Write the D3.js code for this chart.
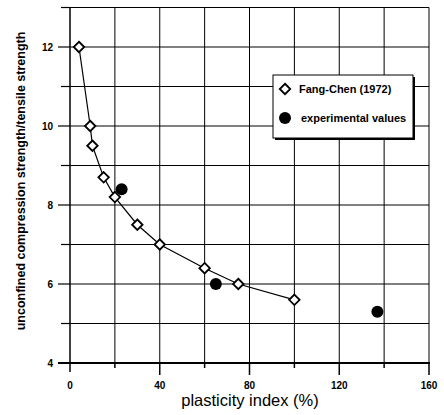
<!DOCTYPE html>
<html>
<head>
<meta charset="utf-8">
<script src="https://cdn.jsdelivr.net/npm/d3@7"></script>
<style>
  body { margin: 0; background: #fff; }
  svg { font-family: "Liberation Sans", Arial, sans-serif; }
</style>
</head>
<body>
<div id="chart"></div>
<script>
// data
var fangPI = [4, 9, 10, 15, 20, 30, 40, 60, 75, 100];
var fangRatio = [12, 10, 9.5, 8.7, 8.2, 7.5, 7, 6.4, 6, 5.6];
var expPI = [23, 65, 137];
var expRatio = [8.4, 6, 5.3];
var xTicks = [0, 40, 80, 120, 160];
var yTicks = [4, 6, 8, 10, 12];
var legendLabels = ["Fang-Chen (1972)", "experimental values"];

var width = 444, height = 415;
var margin = {top: 7.5, right: 15, bottom: 52, left: 70};

var svg = d3.select("#chart").append("svg")
    .attr("width", width)
    .attr("height", height);

var x = d3.scaleLinear().domain([0, 160]).range([margin.left, width - margin.right]);
var y = d3.scaleLinear().domain([4, 13]).range([height - margin.bottom, margin.top]);

// grid lines
var grid = svg.append("g").attr("stroke", "#000").attr("stroke-width", 1);
grid.selectAll(".vg").data(d3.range(20, 161, 20)).enter().append("line")
    .attr("x1", function (d) { return x(d); })
    .attr("x2", function (d) { return x(d); })
    .attr("y1", y(13)).attr("y2", y(4));
grid.selectAll(".hg").data(d3.range(5, 14, 1)).enter().append("line")
    .attr("x1", x(0)).attr("x2", x(160))
    .attr("y1", function (d) { return y(d); })
    .attr("y2", function (d) { return y(d); });

// left axis line and bottom axis
svg.append("line")
    .attr("x1", x(0)).attr("x2", x(0))
    .attr("y1", y(13)).attr("y2", y(4) + 9)
    .attr("stroke", "#000").attr("stroke-width", 1.5);
svg.append("line")
    .attr("x1", x(0) - 12).attr("x2", x(160) + 1)
    .attr("y1", y(4)).attr("y2", y(4))
    .attr("stroke", "#000").attr("stroke-width", 2);

// ticks
var xAxis = svg.append("g").attr("stroke", "#000").attr("stroke-width", 1.5);
xAxis.selectAll("line").data(d3.range(20, 161, 20)).enter().append("line")
    .attr("x1", function (d) { return x(d); })
    .attr("x2", function (d) { return x(d); })
    .attr("y1", y(4))
    .attr("y2", function (d) { return y(4) + (d % 40 === 0 ? 12 : 5); });
var yAxis = svg.append("g").attr("stroke", "#000").attr("stroke-width", 1.2);
yAxis.selectAll("line").data(d3.range(5, 14, 1)).enter().append("line")
    .attr("x1", function (d) { return x(0) - (d % 2 === 0 ? 12 : 9); })
    .attr("x2", x(0))
    .attr("y1", function (d) { return y(d); })
    .attr("y2", function (d) { return y(d); });

// tick labels
svg.append("g").selectAll("text").data(xTicks).enter().append("text")
    .attr("x", function (d) { return x(d); })
    .attr("y", y(4) + 26)
    .attr("text-anchor", "middle")
    .attr("font-size", 10).attr("font-weight", "bold")
    .text(function (d) { return d; });
svg.append("g").selectAll("text").data(yTicks).enter().append("text")
    .attr("x", x(0) - 17)
    .attr("y", function (d) { return y(d); })
    .attr("dy", "0.35em")
    .attr("text-anchor", "end")
    .attr("font-size", 10).attr("font-weight", "bold")
    .text(function (d) { return d; });

// axis titles
svg.append("text")
    .attr("x", 250).attr("y", 406)
    .attr("text-anchor", "middle")
    .attr("font-size", 16.5)
    .text("plasticity index (%)");
svg.append("text")
    .attr("transform", "translate(25,181) rotate(-90)")
    .attr("text-anchor", "middle")
    .attr("font-size", 12.5).attr("font-weight", "bold")
    .text("unconfined compression strength/tensile strength");

// Fang-Chen curve
var fang = fangPI.map(function (d, i) { return {x: d, y: fangRatio[i]}; });
var line = d3.line()
    .x(function (d) { return x(d.x); })
    .y(function (d) { return y(d.y); });
svg.append("path").datum(fang)
    .attr("d", line)
    .attr("fill", "none").attr("stroke", "#000").attr("stroke-width", 1.2);

var diamond = d3.symbol().type(d3.symbolDiamond2).size(70);
svg.append("g").selectAll("path").data(fang).enter().append("path")
    .attr("transform", function (d) { return "translate(" + x(d.x) + "," + y(d.y) + ")"; })
    .attr("d", diamond)
    .attr("fill", "#fff").attr("stroke", "#000").attr("stroke-width", 1.8);

// experimental values
svg.append("g").selectAll("circle").data(expPI).enter().append("circle")
    .attr("cx", function (d) { return x(d); })
    .attr("cy", function (d, i) { return y(expRatio[i]); })
    .attr("r", 6)
    .attr("fill", "#000");

// legend
var lg = svg.append("g");
lg.append("rect").attr("x", 275).attr("y", 77).attr("width", 140).attr("height", 63).attr("fill", "#000");
lg.append("rect").attr("x", 273).attr("y", 75).attr("width", 140).attr("height", 63)
    .attr("fill", "#fff").attr("stroke", "#000").attr("stroke-width", 1);
lg.append("path")
    .attr("transform", "translate(285,89)")
    .attr("d", diamond)
    .attr("fill", "#fff").attr("stroke", "#000").attr("stroke-width", 1.8);
lg.append("circle").attr("cx", 285).attr("cy", 118).attr("r", 6).attr("fill", "#000");
lg.selectAll("text").data(legendLabels).enter().append("text")
    .attr("x", function (d, i) { return i === 0 ? 299 : 301; })
    .attr("y", function (d, i) { return i === 0 ? 89 : 118; })
    .attr("dy", "0.35em")
    .attr("font-size", 11).attr("font-weight", "bold")
    .text(function (d) { return d; });
</script>
</body>
</html>
